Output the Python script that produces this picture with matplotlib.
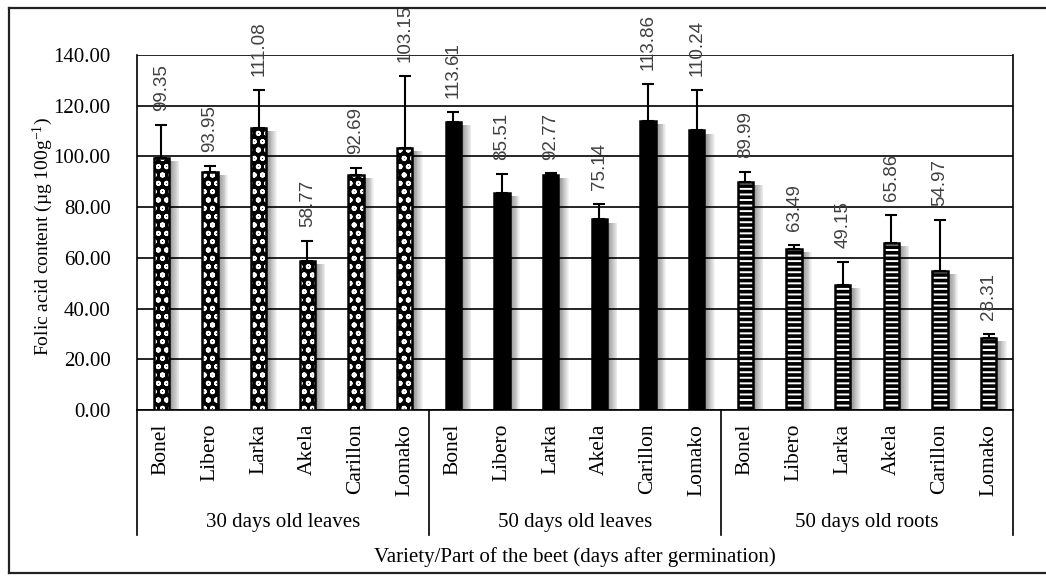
import numpy as np
import matplotlib
matplotlib.use("Agg")
import matplotlib.pyplot as plt
from matplotlib.lines import Line2D
import matplotlib.transforms as mtransforms

plt.rcParams['font.family'] = ['Liberation Serif', 'DejaVu Serif']
plt.rcParams['mathtext.fontset'] = 'custom'
plt.rcParams['mathtext.rm'] = 'Liberation Serif'
plt.rcParams['mathtext.it'] = 'Liberation Serif:italic'

varieties = ["Bonel", "Libero", "Larka", "Akela", "Carillon", "Lomako"]
groups = ["30 days old leaves", "50 days old leaves", "50 days old roots"]

leaves30 = [99.35, 93.95, 111.08, 58.77, 92.69, 103.15]
leaves50 = [113.61, 85.51, 92.77, 75.14, 113.86, 110.24]
roots50 = [89.99, 63.49, 49.15, 65.86, 54.97, 28.31]

err30 = [12.9, 2.1, 15.2, 8.0, 2.8, 28.4]
err50 = [3.8, 7.7, 0.5, 6.0, 14.8, 15.8]
err_roots = [3.8, 1.7, 9.2, 11.2, 19.8, 1.6]

yticks = [0, 20, 40, 60, 80, 100, 120, 140]

fig = plt.figure(figsize=(10.46, 5.76), dpi=100)
ax = fig.add_axes([137/1046, 1-410/576, 876/1046, 355/576])

series = [leaves30, leaves50, roots50]
errors = [err30, err50, err_roots]
n = len(varieties)
w = 0.31

for g in range(3):
    x = np.arange(n) + g*n
    v = np.array(series[g])
    e = np.array(errors[g])
    # soft drop shadow on the right
    for k in range(1, 13):
        ax.bar(x + 0.018*k, v - 1.2, w, color='black', alpha=0.045,
               lw=0, zorder=2)
    if g == 0:
        plt.rcParams['hatch.linewidth'] = 1.3
        ax.bar(x, v, w, facecolor='black', edgecolor='white', hatch='oo',
               lw=0, zorder=3)
    elif g == 1:
        ax.bar(x, v, w, facecolor='black', lw=0, zorder=3)
    else:
        plt.rcParams['hatch.linewidth'] = 2.6
        ax.bar(x, v, w, facecolor='white', edgecolor='black', hatch='---',
               lw=0, zorder=3)
    ax.bar(x, v, w, fill=False, edgecolor='black', lw=1.8, zorder=4)
    ax.errorbar(x, v, yerr=[np.zeros(n), e], fmt='none', ecolor='black',
                elinewidth=1.5, capsize=4, capthick=1.5, zorder=5)
    for xi, vi, ei in zip(x, v, e):
        ax.text(xi, vi + ei + 5.5, f"{vi:.2f}", rotation=90, ha='center',
                va='bottom', fontsize=13.5, color='#404040',
                family=['Liberation Sans', 'DejaVu Sans'], zorder=6)

ax.set_xlim(-0.5, 3*n - 0.5)
ax.set_ylim(0, 140)
ax.set_yticks(yticks)
ax.set_yticklabels([f"{t:.2f}" for t in yticks], fontsize=15)
ax.tick_params(axis='y', length=0, pad=19)
ax.yaxis.grid(True, color='black', lw=1.2, zorder=1)
ax.set_axisbelow(True)

ax.set_xticks(np.arange(3*n))
ax.set_xticklabels(varieties*3, rotation=90, fontsize=15.5)
ax.tick_params(axis='x', length=0, pad=10)

for s in ['left', 'right', 'bottom']:
    ax.spines[s].set_linewidth(1.2)
    ax.spines[s].set_color('black')
ax.spines['top'].set_visible(False)

# multi-level category axis
trans = mtransforms.blended_transform_factory(ax.transData, ax.transAxes)
for b in [-0.5, n - 0.5, 2*n - 0.5, 3*n - 0.5]:
    ax.add_line(Line2D([b, b], [0, -125/355], transform=trans, color='black',
                       lw=1.2, clip_on=False))
for g in range(3):
    ax.text(g*n + (n - 1)/2, -113/355, groups[g], transform=trans,
            ha='center', va='center', fontsize=15)

fig.text((137 + 1013)/2/1046, 1 - 557/576,
         "Variety/Part of the beet (days after germination)",
         ha='center', va='center', fontsize=15)
fig.text(43/1046, 1 - 237/576, r"Folic acid content (µg 100g$^{-1}$)",
         rotation=90, ha='center', va='center', fontsize=14)

# outer frame (cut off on the right)
fc = '#222222'
fig.add_artist(Line2D([9/1046, 1], [1 - 8/576, 1 - 8/576], color=fc, lw=1.6))
fig.add_artist(Line2D([9/1046, 1], [1 - 573/576, 1 - 573/576], color=fc, lw=1.6))
fig.add_artist(Line2D([9/1046, 9/1046], [1 - 8/576, 1 - 573/576], color=fc, lw=1.6))

fig.savefig("out.png", dpi=100)
